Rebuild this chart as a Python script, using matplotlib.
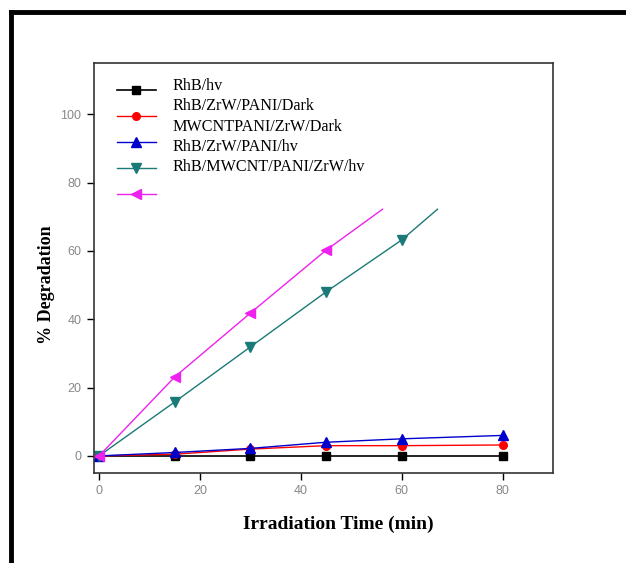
import matplotlib.pyplot as plt
from matplotlib.lines import Line2D

# data
t = [0, 15, 30, 45, 60, 80]
rhb_hv = [0, 0, 0, 0, 0, 0]
rhb_zrw_dark = [0, 0.5, 2, 3, 3, 3.2]
rhb_zrw_hv = [0, 1, 2.2, 4, 5, 6]
t_mw = [0, 15, 30, 45, 60]
rhb_mw_hv = [0, 15.8, 31.9, 48, 63.2]
mw_end = (67.1, 72.2)       # line runs on past the last point
t_mw2 = [0, 15, 30, 45]
mw_dark = [0, 23.1, 41.8, 60.2]
mw2_end = (56.2, 72.2)

labels = ['RhB/hv', 'RhB/ZrW/PANI/Dark', 'MWCNTPANI/ZrW/Dark',
          'RhB/ZrW/PANI/hv', 'RhB/MWCNT/PANI/ZrW/hv']

serif = ['Liberation Serif', 'DejaVu Serif']

fig = plt.figure(figsize=(6.26, 5.63), dpi=100)
ax = fig.add_axes([94/626, 1-473/563, 459/626, 410/563])

h1, = ax.plot(t, rhb_hv, 's-', color='black', ms=5.5, lw=1.2)
h2, = ax.plot(t, rhb_zrw_dark, 'o-', color='red', ms=5.5, lw=1.0)
h3, = ax.plot(t, rhb_zrw_hv, '^-', color='#0000cc', ms=6.5, lw=1.0)
h4, = ax.plot(t_mw + [mw_end[0]], rhb_mw_hv + [mw_end[1]], 'v-', color='#1a7a78',
              ms=7, lw=1.0, markevery=list(range(len(t_mw))))
h5, = ax.plot(t_mw2 + [mw2_end[0]], mw_dark + [mw2_end[1]], '<-', color='#ee22ee',
              ms=7, lw=1.0, markevery=list(range(len(t_mw2))))

ax.set_xlim(-1, 90)
ax.set_ylim(-5, 115)
ax.set_xticks([0, 20, 40, 60, 80])
ax.set_yticks([0, 20, 40, 60, 80, 100])
ax.tick_params(direction='out', length=5, width=1, labelcolor='#888888',
               labelsize=9, pad=4)
for lab in ax.get_xticklabels() + ax.get_yticklabels():
    lab.set_fontfamily('Liberation Sans')
for s in ax.spines.values():
    s.set_linewidth(1.2)
    s.set_color('#333333')

ax.set_xlabel('Irradiation Time (min)', fontfamily=serif, fontweight='bold',
              fontsize=14)
ax.xaxis.set_label_coords(0.532, -0.105)
ax.set_ylabel('% Degradation', fontfamily=serif, fontweight='bold', fontsize=13)
ax.yaxis.set_label_coords(-0.086, 0.46)

leg = ax.legend([h1, h2, h3, h4, h5], [''] * 5, loc='upper left',
                bbox_to_anchor=(0.035, 0.965), frameon=False, borderpad=0,
                handlelength=2.8, labelspacing=0.85, prop={'size': 10})

y0 = 0.944
for i, lab in enumerate(labels):
    ax.text(0.172, y0 - i * 0.0495, lab, transform=ax.transAxes, va='center',
            ha='left', fontfamily=serif, fontsize=11.6)

# outer frame of the original figure
fig.add_artist(Line2D([11/626, 11/626], [1-12/563, 0], transform=fig.transFigure,
                      color='black', lw=3.5))
fig.add_artist(Line2D([11/626, 1], [1-12/563, 1-12/563], transform=fig.transFigure,
                      color='black', lw=3.5))

fig.savefig('out.png', dpi=100)
